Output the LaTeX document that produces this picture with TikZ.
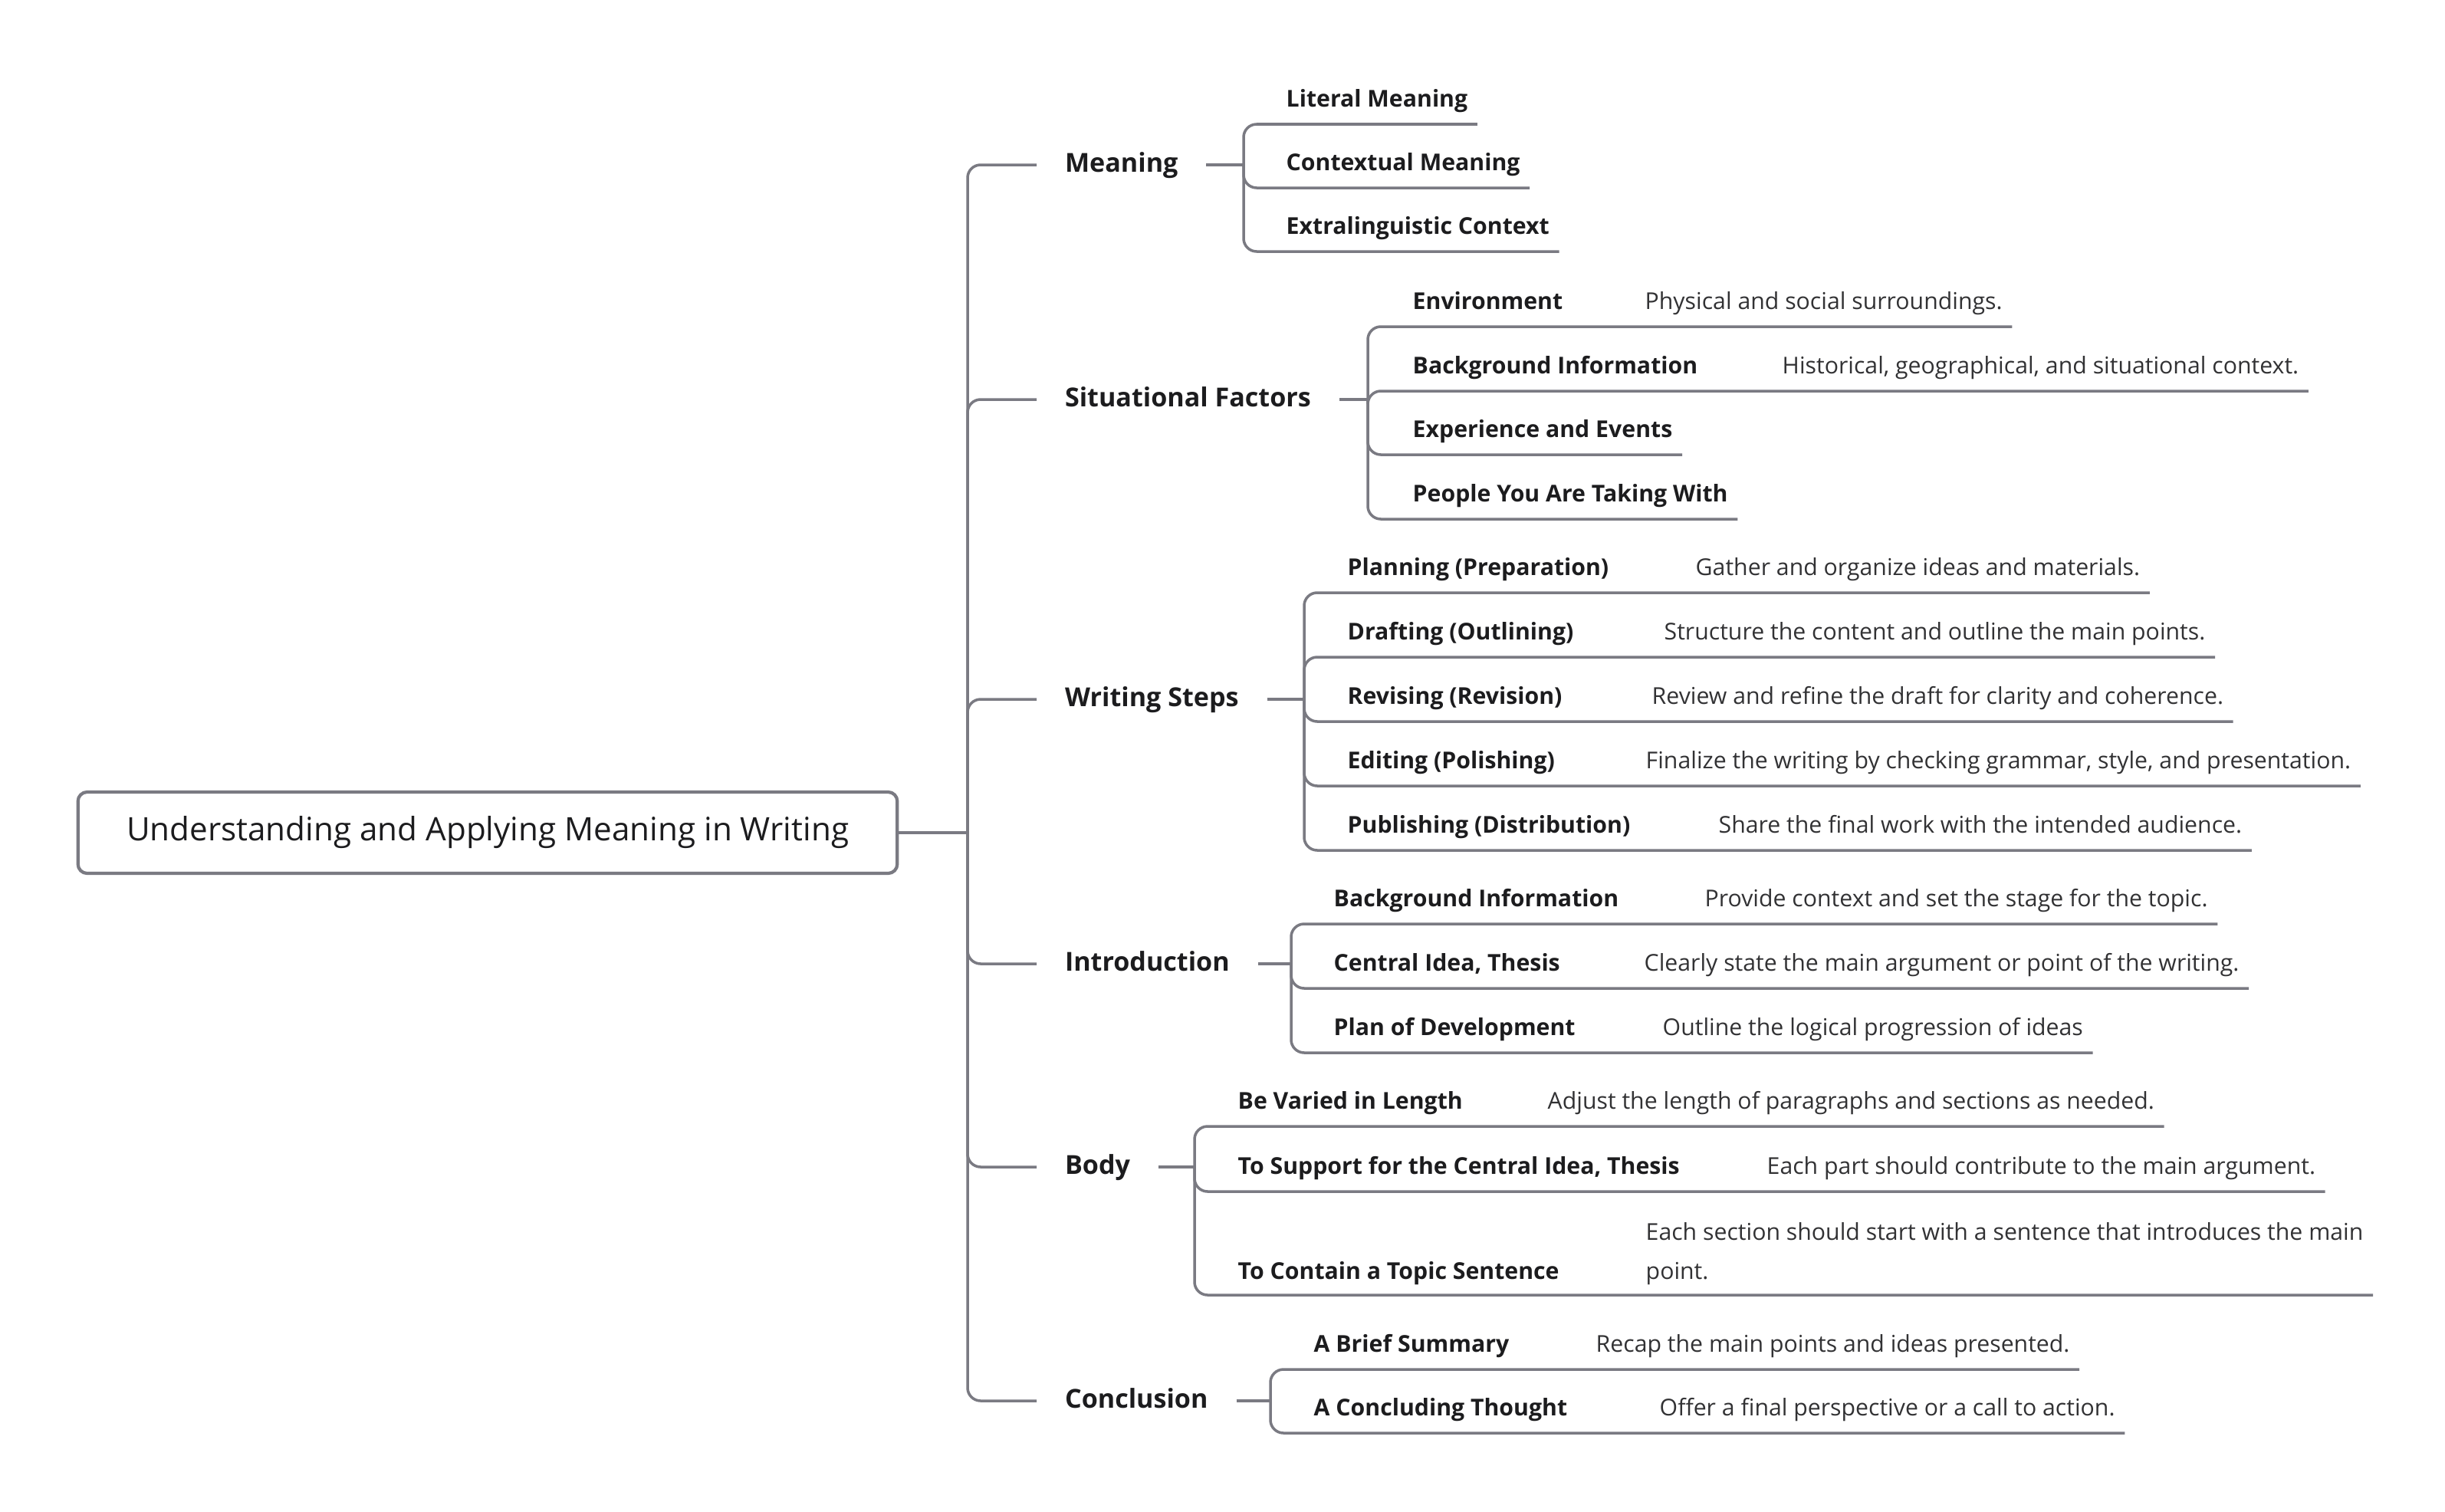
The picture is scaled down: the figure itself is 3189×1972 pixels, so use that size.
\documentclass[tikz,border=0pt]{standalone}
\usepackage{fontspec}
\setmainfont{Open Sans}
\definecolor{linegray}{RGB}{122,122,130}
\definecolor{inkdark}{RGB}{28,28,30}
\definecolor{inkgray}{RGB}{50,50,52}
\tikzset{
	branch/.style={draw=linegray,line width=1pt,rounded corners=0.17cm},
	rootbox/.style={draw=linegray,line width=1.2pt,rounded corners=0.12cm,minimum width=10.68cm,minimum height=1.06cm,text=inkdark,font=\fontsize{12}{14}\selectfont},
	topic/.style={anchor=west,inner sep=0pt,outer xsep=0.37cm,text height=5.3pt,text depth=0pt,text=inkdark,font=\fontsize{9.7}{12}\selectfont\bfseries},
	item/.style={anchor=base west,inner sep=0pt,text=inkdark,font=\fontsize{8.6}{11}\selectfont\bfseries},
	note/.style={anchor=base west,inner sep=0pt,align=left,text=inkgray,font=\fontsize{8.6}{14.5}\selectfont},
}
\begin{document}
\begin{tikzpicture}[x=0.01cm,y=-0.01cm]
	\useasboundingbox (0,0) rectangle (3189,1972);
	\node[rootbox] (root) at (636,1086) {Understanding and Applying Meaning in Writing};
	\coordinate (trunk) at (1262,1086);
		\draw[branch] (root.east) -- (trunk);
	%
	\node[topic] (meaning) at (1352,215) {Meaning};
	\coordinate (mj) at (1622,215);
		\draw[branch] (trunk) |- (meaning.west);
		\draw[branch] (meaning.east) -- (mj);
	\node[item] (m1) at (1677,139) {Literal Meaning};
	\node[item] (m2) at (1677,222) {Contextual Meaning};
	\node[item] (m3) at (1677,305) {Extralinguistic Context};
		\draw[branch] (mj) |- ([shift={(12,23)}]m1.base east);
		\draw[branch] (mj) |- ([shift={(12,23)}]m2.base east);
		\draw[branch] (mj) |- ([shift={(12,23)}]m3.base east);
	%
	\node[topic] (situ) at (1352,521) {Situational Factors};
	\coordinate (sj) at (1784,521);
		\draw[branch] (trunk) |- (situ.west);
		\draw[branch] (situ.east) -- (sj);
	\node[item] (s1) at (1842,403) {Environment};
	\node[note] (s1n) at (2145,403) {Physical and social surroundings.};
	\node[item] (s2) at (1842,487) {Background Information};
	\node[note] (s2n) at (2324,487) {Historical, geographical, and situational context.};
	\node[item] (s3) at (1842,570) {Experience and Events};
	\node[item] (s4) at (1842,654) {People You Are Taking With};
		\draw[branch] (sj) |- ([shift={(12,23)}]s1n.base east);
		\draw[branch] (sj) |- ([shift={(12,23)}]s2n.base east);
		\draw[branch] (sj) |- ([shift={(12,23)}]s3.base east);
		\draw[branch] (sj) |- ([shift={(12,23)}]s4.base east);
	%
	\node[topic] (steps) at (1352,912) {Writing Steps};
	\coordinate (wj) at (1701,912);
		\draw[branch] (trunk) |- (steps.west);
		\draw[branch] (steps.east) -- (wj);
	\node[item] (w1) at (1757,750) {Planning (Preparation)};
	\node[note] (w1n) at (2211,750) {Gather and organize ideas and materials.};
	\node[item] (w2) at (1757,834) {Drafting (Outlining)};
	\node[note] (w2n) at (2170,834) {Structure the content and outline the main points.};
	\node[item] (w3) at (1757,918) {Revising (Revision)};
	\node[note] (w3n) at (2154,918) {Review and refine the draft for clarity and coherence.};
	\node[item] (w4) at (1757,1002) {Editing (Polishing)};
	\node[note] (w4n) at (2146,1002) {Finalize the writing by checking grammar, style, and presentation.};
	\node[item] (w5) at (1757,1086) {Publishing (Distribution)};
	\node[note] (w5n) at (2241,1086) {Share the final work with the intended audience.};
		\draw[branch] (wj) |- ([shift={(12,23)}]w1n.base east);
		\draw[branch] (wj) |- ([shift={(12,23)}]w2n.base east);
		\draw[branch] (wj) |- ([shift={(12,23)}]w3n.base east);
		\draw[branch] (wj) |- ([shift={(12,23)}]w4n.base east);
		\draw[branch] (wj) |- ([shift={(12,23)}]w5n.base east);
	%
	\node[topic] (intro) at (1352,1257) {Introduction};
	\coordinate (ij) at (1684,1257);
		\draw[branch] (trunk) |- (intro.west);
		\draw[branch] (intro.east) -- (ij);
	\node[item] (i1) at (1739,1182) {Background Information};
	\node[note] (i1n) at (2223,1182) {Provide context and set the stage for the topic.};
	\node[item] (i2) at (1739,1266) {Central Idea, Thesis};
	\node[note] (i2n) at (2144,1266) {Clearly state the main argument or point of the writing.};
	\node[item] (i3) at (1739,1350) {Plan of Development};
	\node[note] (i3n) at (2168,1350) {Outline the logical progression of ideas};
		\draw[branch] (ij) |- ([shift={(12,23)}]i1n.base east);
		\draw[branch] (ij) |- ([shift={(12,23)}]i2n.base east);
		\draw[branch] (ij) |- ([shift={(12,23)}]i3n.base east);
	%
	\node[topic] (body) at (1352,1522) {Body};
	\coordinate (bj) at (1558,1522);
		\draw[branch] (trunk) |- (body.west);
		\draw[branch] (body.east) -- (bj);
	\node[item] (b1) at (1614,1446) {Be Varied in Length};
	\node[note] (b1n) at (2018,1446) {Adjust the length of paragraphs and sections as needed.};
	\node[item] (b2) at (1614,1531) {To Support for the Central Idea, Thesis};
	\node[note] (b2n) at (2304,1531) {Each part should contribute to the main argument.};
	\node[item] (b3) at (1614,1668) {To Contain a Topic Sentence};
	\node[note] (b3n) at (2146,1668) {Each section should start with a sentence that introduces the main\\point.};
		\draw[branch] (bj) |- ([shift={(12,23)}]b1n.base east);
		\draw[branch] (bj) |- ([shift={(12,23)}]b2n.base east);
		\draw[branch] (bj) |- ([shift={(12,21)}]b3n.base east);
	%
	\node[topic] (concl) at (1352,1827) {Conclusion};
	\coordinate (cj) at (1657,1827);
		\draw[branch] (trunk) |- (concl.west);
		\draw[branch] (concl.east) -- (cj);
	\node[item] (c1) at (1713,1763) {A Brief Summary};
	\node[note] (c1n) at (2081,1763) {Recap the main points and ideas presented.};
	\node[item] (c2) at (1713,1846) {A Concluding Thought};
	\node[note] (c2n) at (2164,1846) {Offer a final perspective or a call to action.};
		\draw[branch] (cj) |- ([shift={(12,23)}]c1n.base east);
		\draw[branch] (cj) |- ([shift={(12,23)}]c2n.base east);
\end{tikzpicture}
\end{document}
